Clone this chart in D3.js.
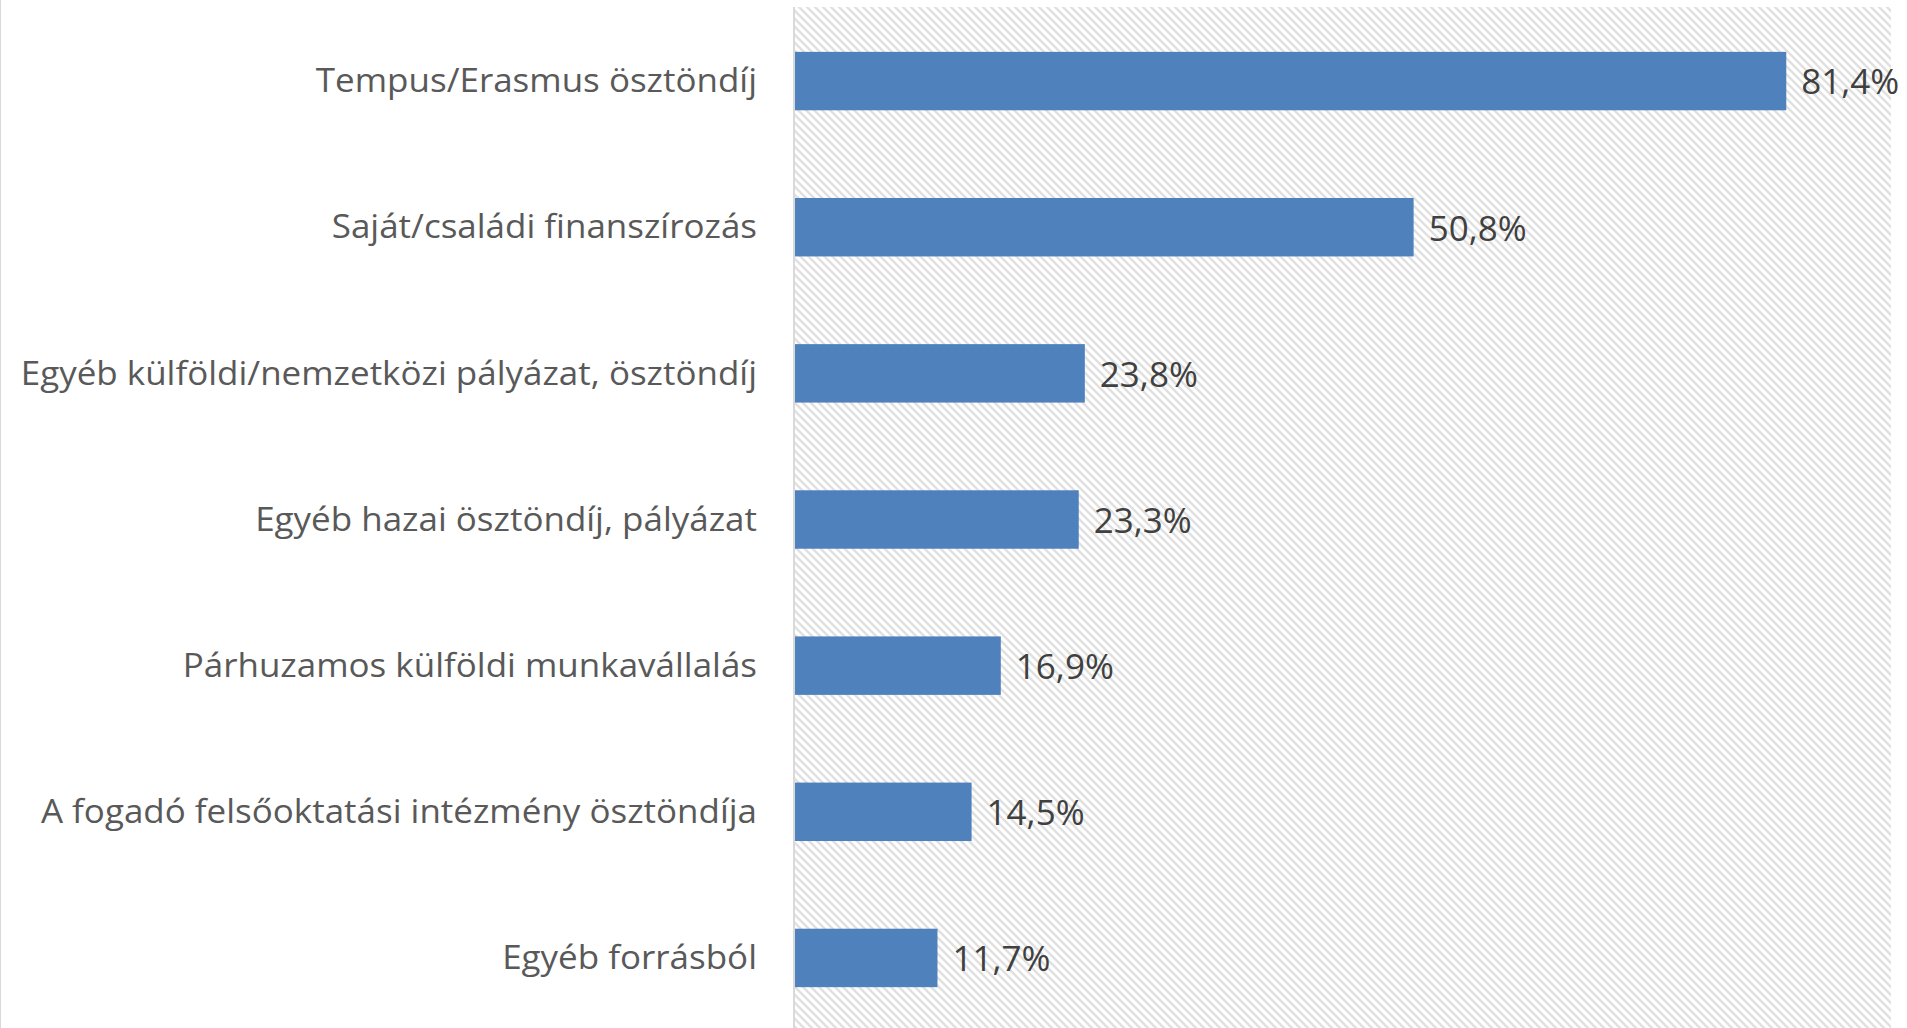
<!DOCTYPE html>
<html>
<head>
    <meta charset="utf-8" />
    <title>Finanszírozási források</title>
    <style>
    	body { margin: 0; background: #fff; }
    	svg { display: block; }
    </style>
</head>
<body>
<script src="https://cdn.jsdelivr.net/npm/d3@7"></script>
<script>
    // adatok
    var categories = [
        "Tempus/Erasmus ösztöndíj",
        "Saját/családi finanszírozás",
        "Egyéb külföldi/nemzetközi pályázat, ösztöndíj",
        "Egyéb hazai ösztöndíj, pályázat",
        "Párhuzamos külföldi munkavállalás",
        "A fogadó felsőoktatási intézmény ösztöndíja",
        "Egyéb forrásból"
    ];
    var values = [0.814, 0.508, 0.238, 0.233, 0.169, 0.145, 0.117];
    var valueLabels = ["81,4%", "50,8%", "23,8%", "23,3%", "16,9%", "14,5%", "11,7%"];

    var width = 1907;
    var height = 1028;
    var plot = {"left": 795, "right": 1891, "top": 8, "bottom": 1031};

    var svg = d3.select("body").append("svg")
                .attr("width", width)
                .attr("height", height);

    // csíkos háttér
    var defs = svg.append("defs");
    var pat = defs.append("pattern")
                  .attr("id", "hatch")
                  .attr("patternUnits", "userSpaceOnUse")
                  .attr("width", 8)
                  .attr("height", 8);
    pat.append("rect").attr("width", 8).attr("height", 8).attr("fill", "#fff");
    pat.append("path")
       .attr("d", "M-2,-2 L10,10 M-2,6 L2,10 M6,-2 L10,2")
       .attr("stroke", "#e0e0e0")
       .attr("stroke-width", 2.3);

    var x = d3.scaleLinear()
              .domain([0, 0.9])
              .range([plot.left, plot.right]);

    var y = d3.scaleBand()
              .domain(categories)
              .range([plot.top, plot.bottom])
              .paddingInner(0.6)
              .paddingOuter(0.3);

    svg.append("line")
       .attr("x1", 0.5).attr("x2", 0.5)
       .attr("y1", 0).attr("y2", height)
       .attr("stroke", "#d9d9d9")
       .attr("stroke-width", 1);

    svg.append("rect")
       .attr("x", plot.left)
       .attr("y", plot.top - 1)
       .attr("width", plot.right - plot.left)
       .attr("height", plot.bottom - plot.top)
       .attr("fill", "url(#hatch)");

    // függőleges tengely vonal
    svg.append("line")
       .attr("x1", plot.left - 1).attr("x2", plot.left - 1)
       .attr("y1", plot.top - 1).attr("y2", height)
       .attr("stroke", "#d9d9d9")
       .attr("stroke-width", 2);

    svg.append("g")
       .selectAll("rect")
       .data(values)
       .enter().append("rect")
       .attr("x", x(0))
       .attr("y", (d, i) => y(categories[i]))
       .attr("width", d => x(d) - x(0))
       .attr("height", y.bandwidth())
       .attr("fill", "#4f81bd");

    svg.append("g")
       .selectAll("text")
       .data(valueLabels)
       .enter().append("text")
       .attr("x", (d, i) => x(values[i]) + 15)
       .attr("y", (d, i) => y(categories[i]) + y.bandwidth() / 2)
       .attr("dy", "0.38em")
       .attr("font-family", "'Open Sans', sans-serif")
       .attr("font-size", 35)
       .attr("fill", "#404040")
       .text(d => d);

    // kategória feliratok, kissé szélesítve
    svg.append("g")
       .selectAll("text")
       .data(categories)
       .enter().append("text")
       .attr("transform", d => "translate(757," + (y(d) + y.bandwidth() / 2) + ") scale(1.06,1)")
       .attr("dy", "0.34em")
       .attr("text-anchor", "end")
       .attr("font-family", "'Open Sans', sans-serif")
       .attr("font-size", 33)
       .attr("fill", "#595959")
       .text(d => d);
</script>
</body>
</html>
